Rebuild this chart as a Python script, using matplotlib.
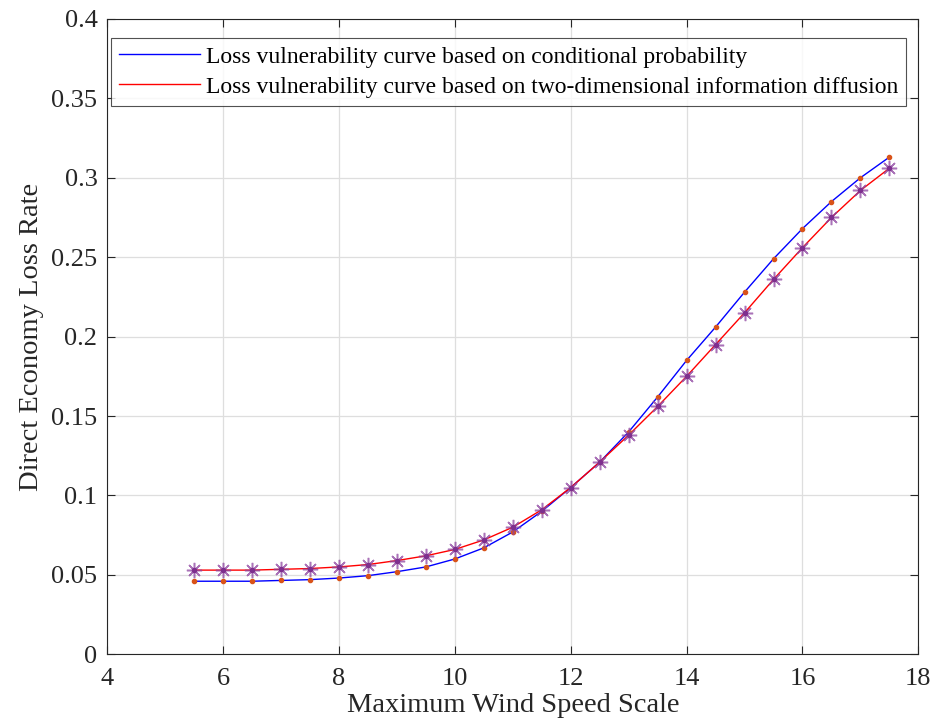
import numpy as np
import matplotlib.pyplot as plt

plt.rcParams['font.family'] = ['Liberation Serif', 'DejaVu Serif']

# wind speed scale
wind = np.arange(5.5, 18.0, 0.5)

# loss vulnerability based on conditional probability
loss_cond = [0.046, 0.046, 0.046, 0.0465, 0.047, 0.048, 0.0495, 0.052, 0.055,
             0.060, 0.067, 0.077, 0.090, 0.105, 0.121, 0.140, 0.162, 0.185,
             0.206, 0.228, 0.249, 0.268, 0.285, 0.300, 0.313]

# loss vulnerability based on two-dimensional information diffusion
loss_diff = [0.053, 0.053, 0.053, 0.0535, 0.054, 0.055, 0.0565, 0.059, 0.062,
             0.066, 0.072, 0.080, 0.091, 0.105, 0.121, 0.138, 0.156, 0.175,
             0.195, 0.215, 0.236, 0.256, 0.275, 0.292, 0.306]

fig = plt.figure(figsize=(9.4, 7.27), dpi=100)
ax = fig.add_axes([0.114, 0.100, 0.863, 0.874])

ax.plot(wind, loss_cond, color='blue', lw=1.0,
        label='Loss vulnerability curve based on conditional probability')
ax.plot(wind, loss_diff, color='red', lw=1.0,
        label='Loss vulnerability curve based on two-dimensional information diffusion')
ax.plot(wind, loss_cond, ls='none', marker='o', ms=3, color='#d95319')
ax.plot(wind, loss_diff, ls='none', marker=(8, 2, 0), ms=11, mew=1.1,
        color='#8e44a0', alpha=0.75)
ax.plot(wind, loss_diff, ls='none', marker='o', ms=3, color='#7e2f8e')

ax.set_xlim(4, 18)
ax.set_ylim(0, 0.4)
ax.set_xticks(np.arange(4, 19, 2))
ax.set_yticks(np.arange(0, 0.41, 0.05))
ax.set_yticklabels(['0', '0.05', '0.1', '0.15', '0.2', '0.25', '0.3', '0.35', '0.4'])
ax.grid(True, color='#dedede', lw=0.9)
ax.set_axisbelow(True)
ax.tick_params(direction='in', labelsize=19, length=6, top=True, right=True,
               colors='#262626', labelcolor='#262626')
ax.tick_params(axis='x', pad=10)
ax.tick_params(axis='y', pad=7)
for s in ax.spines.values():
    s.set_color('#262626')
    s.set_linewidth(0.8)

ax.set_xlabel('Maximum Wind Speed Scale', fontsize=20.5, color='#262626', labelpad=2)
ax.set_ylabel('Direct Economy Loss Rate', fontsize=20.5, color='#262626', labelpad=5)

leg = ax.legend(loc='upper left', bbox_to_anchor=(0.005, 0.970), fontsize=17,
                frameon=True, fancybox=False, edgecolor='#262626', borderaxespad=0,
                handlelength=3.4, handletextpad=0.25, borderpad=0.35,
                labelspacing=0.35)
leg.get_frame().set_linewidth(0.8)

fig.savefig('out.png', dpi=100)
